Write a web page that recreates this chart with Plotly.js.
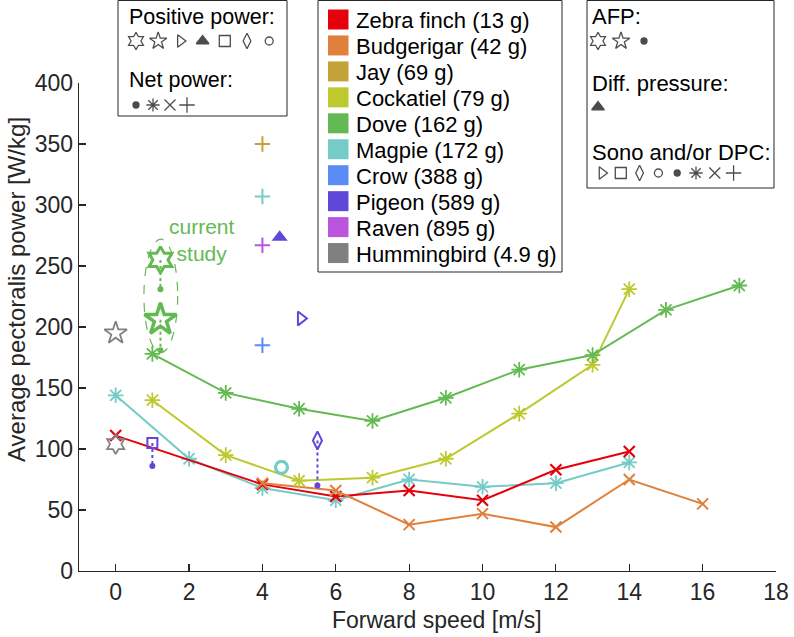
<!DOCTYPE html>
<html>
<head>
<meta charset="utf-8">
<script src="https://cdn.plot.ly/plotly-3.0.1.min.js"></script>
<style>html,body{margin:0;padding:0;background:#fff;}#chart{width:794px;height:637px;}</style>
</head>
<body>
<div id="chart"></div>
<script>
// ---------------- data ----------------
const speciesNames = ['Zebra finch (13 g)','Budgerigar (42 g)','Jay (69 g)','Cockatiel (79 g)','Dove (162 g)',
  'Magpie (172 g)','Crow (388 g)','Pigeon (589 g)','Raven (895 g)','Hummingbird (4.9 g)'];
const speciesColors = ['#e6000b','#e0803a','#c4a23a','#bdc92f','#64ba52','#74cbc7','#5a8cf5','#6147d8','#bb55de','#808080'];

const zebraX = [0,4,6,8,10,12,14];
const zebraY = [111,71,61,66,58,83,98];
const budgieX = [4,6,8,10,12,14,16];
const budgieY = [72,66,38,47,36,75,55];
const cockatielX = [1,3,5,7,9,11,13,14];
const cockatielY = [140,95,74,76.5,92,129,169,231];
const doveX = [1,3,5,7,9,11,13,15,17];
const doveY = [178,146,133,123,142,165,177,214,234];
const magpieX = [0,2,4,6,8,10,12,14];
const magpieY = [144,92,68,58,75,69,72,89];

const hummingHexX = [0], hummingHexY = [104];
const hummingStarX = [0], hummingStarY = [195];

const studySpeed = 1.22;
const studyHexY = [255, 231];   // AFP positive -> net
const studyStarY = [206, 181];  // AFP positive -> net

const crossX = 4;
const jayCrossY = 350, magpieCrossY = 307, ravenCrossY = 267, crowCrossY = 185;

const pigeonTriUp = {x: 4.47, y: 273.5};
const pigeonTriRight = {x: 5.05, y: 207};
const pigeonSquareX = 1, pigeonSquareY = [105, 86];
const pigeonDiamondX = 5.5, pigeonDiamondY = [107, 70];
const magpieCircle = {x: 4.52, y: 85};

const xTicks = [0,2,4,6,8,10,12,14,16,18];
const yTicks = [0,50,100,150,200,250,300,350,400];

// legend glyph lists
const positiveSymbols = ['hexagram-open','star-open','triangle-right-open','triangle-up','square-open','diamond-tall-open','circle-open'];
const netSymbols = ['circle','asterisk-open','x-thin-open','cross-thin-open'];
const afpSymbols = ['hexagram-open','star-open','circle'];
const diffSymbols = ['triangle-up'];
const sonoSymbols = ['triangle-right-open','square-open','diamond-tall-open','circle-open','circle','asterisk-open','x-thin-open','cross-thin-open'];

// ---------------- layout helpers ----------------
const W = 794, H = 637;
const PX = v => v / W;
const PY = v => 1 - v / H;
const FONT = 'Liberation Sans, Arial, Helvetica, sans-serif';
const AX = '#262626';
const C = speciesColors;

const traces = [];
function line(x, y, color, sym, size, lw) {
  traces.push({x, y, type: 'scatter', mode: 'lines+markers', cliponaxis: false,
    line: {color, width: 2},
    marker: {symbol: sym, size, color, line: {color, width: lw}}, hoverinfo: 'x+y'});
}
function pts(x, y, color, sym, size, lw) {
  traces.push({x, y, type: 'scatter', mode: 'markers', cliponaxis: false,
    marker: {symbol: sym, size, color, line: {color, width: lw}}, hoverinfo: 'x+y'});
}
function dotted(x, y, color) {
  traces.push({x, y, type: 'scatter', mode: 'lines', cliponaxis: false,
    line: {color, width: 2, dash: 'dot'}, hoverinfo: 'skip'});
}

// series lines
line(magpieX, magpieY, C[5], 'asterisk-open', 13, 1.8);
line(zebraX, zebraY, C[0], 'x-thin-open', 11, 2.2);
line(budgieX, budgieY, C[1], 'x-thin-open', 11, 2);
line(cockatielX, cockatielY, C[3], 'asterisk-open', 13, 1.8);
line(doveX, doveY, C[4], 'asterisk-open', 13, 1.8);

// hummingbird
pts(hummingHexX, hummingHexY, C[9], 'hexagram-open', 15, 1.8);
pts(hummingStarX, hummingStarY, C[9], 'star-open', 17, 1.8);

// current study (dove)
dotted([studySpeed, studySpeed], studyHexY, C[4]);
dotted([studySpeed, studySpeed], studyStarY, C[4]);
pts([studySpeed], [studyHexY[0]], C[4], 'hexagram-open', 20, 3);
pts([studySpeed], [studyStarY[0]], C[4], 'star-open', 24, 3.5);
pts([studySpeed, studySpeed], [studyHexY[1], studyStarY[1]], C[4], 'circle', 6, 0);

// crosses at 4 m/s
pts([crossX], [jayCrossY], C[2], 'cross-thin-open', 11, 2);
pts([crossX], [magpieCrossY], C[5], 'cross-thin-open', 11, 2);
pts([crossX], [ravenCrossY], C[8], 'cross-thin-open', 11, 2);
pts([crossX], [crowCrossY], C[6], 'cross-thin-open', 11, 2);

// pigeon
pts([pigeonTriUp.x], [pigeonTriUp.y], C[7], 'triangle-up', 14, 0);
pts([pigeonTriRight.x], [pigeonTriRight.y], C[7], 'triangle-right-open', 12, 2);
dotted([pigeonSquareX, pigeonSquareX], pigeonSquareY, C[7]);
pts([pigeonSquareX], [pigeonSquareY[0]], C[7], 'square-open', 10, 2);
pts([pigeonSquareX], [pigeonSquareY[1]], C[7], 'circle', 6, 0);
dotted([pigeonDiamondX, pigeonDiamondX], pigeonDiamondY, C[7]);
pts([pigeonDiamondX], [pigeonDiamondY[0]], C[7], 'diamond-tall-open', 13, 2);
pts([pigeonDiamondX], [pigeonDiamondY[1]], C[7], 'circle', 6, 0);

// magpie circle
pts([magpieCircle.x], [magpieCircle.y], C[5], 'circle-open', 12, 3.2);

// ---------------- legend glyphs on a pixel overlay axis ----------------
function glyphRow(symbols, x0, dx, y) {
  const xs = symbols.map((s, i) => x0 + i * dx);
  traces.push({x: xs, y: symbols.map(() => y), type: 'scatter', mode: 'markers',
    xaxis: 'x2', yaxis: 'y2', hoverinfo: 'skip', cliponaxis: false,
    marker: {symbol: symbols, color: '#000',
      size: symbols.map(s => s === 'circle' ? 6 : (s === 'circle-open' ? 8 : (s.indexOf('hexagram') === 0 || s.indexOf('star') === 0 ? 13 : 11))),
      line: {color: '#000', width: 1.3}}});
}
glyphRow(positiveSymbols, 136, 22.2, 41);
glyphRow(netSymbols, 136, 17, 105);
glyphRow(afpSymbols, 598, 23, 41);
glyphRow(diffSymbols, 598, 20, 107);
glyphRow(sonoSymbols, 602, 18.8, 173);

// ---------------- shapes & annotations ----------------
const shapes = [];
const annotations = [];
function box(x0, y0, x1, y1) {
  shapes.push({type: 'rect', xref: 'paper', yref: 'paper', x0: PX(x0), x1: PX(x1), y0: PY(y1), y1: PY(y0),
    line: {color: '#262626', width: 1}, fillcolor: '#fff', layer: 'below'});
}
function label(text, x, y, size, anchor) {
  annotations.push({text, xref: 'paper', yref: 'paper', x: PX(x), y: PY(y), xanchor: anchor || 'left', yanchor: 'middle',
    showarrow: false, font: {family: FONT, size, color: '#000'}});
}
box(118, 0.5, 287, 116);
box(318, 0.5, 562, 272);
box(587, 0.5, 774, 188);

label('Positive power:', 127, 17, 21.5);
label('Net power:', 127, 80, 21.5);
label('AFP:', 590, 17, 22);
label('Diff. pressure:', 590, 84, 22);
label('Sono and/or DPC:', 590, 152, 22);

speciesNames.forEach((name, i) => {
  const yc = 19.5 + i * 25.95;
  shapes.push({type: 'rect', xref: 'paper', yref: 'paper', x0: PX(328), x1: PX(348.5), y0: PY(yc + 10), y1: PY(yc - 10),
    line: {width: 0}, fillcolor: speciesColors[i], layer: 'above'});
  label(name, 354, yc + 1, 22);
});

// current study ellipse
shapes.push({type: 'circle', xref: 'x', yref: 'y', x0: 0.77, x1: 1.69, y0: 179, y1: 272,
  line: {color: C[4], width: 1.2, dash: 'dash'}});
annotations.push({text: 'current<br>study', xref: 'x', yref: 'y', x: 2.34, y: 271, showarrow: false,
  font: {family: FONT, size: 21, color: C[4]}, align: 'center'});

// axis titles
annotations.push({text: 'Forward speed [m/s]', xref: 'paper', yref: 'paper', x: PX(437), y: PY(620), showarrow: false,
  font: {family: FONT, size: 23, color: AX}, xanchor: 'center', yanchor: 'middle'});
annotations.push({text: 'Average pectoralis power [W/kg]', xref: 'paper', yref: 'paper', x: PX(16), y: PY(290), showarrow: false,
  textangle: -90, font: {family: FONT, size: 24, color: AX}, xanchor: 'center', yanchor: 'middle'});

const layout = {
  width: W, height: H,
  margin: {l: 0, r: 0, t: 0, b: 0},
  paper_bgcolor: '#fff', plot_bgcolor: 'rgba(0,0,0,0)',
  showlegend: false,
  font: {family: FONT, color: AX},
  xaxis: {domain: [PX(79), PX(776)], range: [-1, 18], tickvals: xTicks, ticktext: xTicks.map(String),
    showgrid: false, zeroline: false, showline: true, linecolor: AX, linewidth: 1.3,
    ticks: 'inside', ticklen: 7, tickwidth: 1.2, tickcolor: AX, tickfont: {family: FONT, size: 23, color: AX},
    anchor: 'y', automargin: false, fixedrange: true},
  yaxis: {domain: [PY(571), PY(83)], range: [0, 400], tickvals: yTicks, ticktext: yTicks.map(String),
    showgrid: false, zeroline: false, showline: true, linecolor: AX, linewidth: 1.3,
    ticks: 'inside', ticklen: 7, tickwidth: 1.2, tickcolor: AX, tickfont: {family: FONT, size: 23, color: AX},
    anchor: 'x', automargin: false, fixedrange: true},
  xaxis2: {domain: [0, 1], range: [0, W], visible: false, anchor: 'y2', fixedrange: true},
  yaxis2: {domain: [0, 1], range: [H, 0], visible: false, anchor: 'x2', fixedrange: true},
  shapes, annotations
};

Plotly.newPlot('chart', traces, layout, {displayModeBar: false, staticPlot: true});
</script>
</body>
</html>
